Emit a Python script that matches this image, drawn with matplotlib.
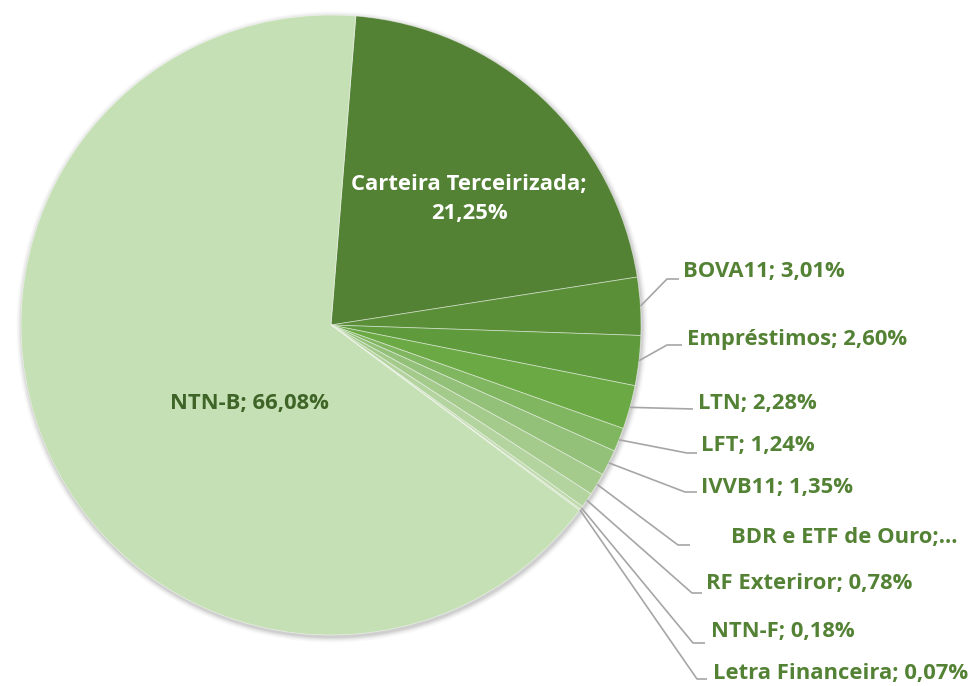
import matplotlib
matplotlib.use("Agg")
import matplotlib.pyplot as plt
import numpy as np

categories = ["Carteira Terceirizada", "BOVA11", "Empréstimos", "LTN", "LFT", "IVVB11",
              "BDR e ETF de Ouro", "RF Exteriror", "NTN-F", "Letra Financeira", "NTN-B"]
values = [21.25, 3.01, 2.60, 2.28, 1.24, 1.35, 1.16, 0.78, 0.18, 0.07, 66.08]
label_texts = ["Carteira Terceirizada;\n21,25%", "BOVA11; 3,01%", "Empréstimos; 2,60%",
               "LTN; 2,28%", "LFT; 1,24%", "IVVB11; 1,35%", "BDR e ETF de Ouro;...",
               "RF Exteriror; 0,78%", "NTN-F; 0,18%", "Letra Financeira; 0,07%",
               "NTN-B; 66,08%"]
colors = ["#548235", "#5a8f38", "#5f9a3d", "#6aa944", "#80b660", "#93c179",
          "#a5cb8c", "#b4d49f", "#bfdaab", "#c9e0b8", "#c5e0b4"]

W, H = 973, 686
fig = plt.figure(figsize=(W / 100, H / 100), dpi=100)
ax = fig.add_axes([0, 0, 1, 1])

cx, cy, R = 331, H - 325, 310
start = 90 - 4.6

# soft shadow
for i, a in enumerate(np.linspace(0.05, 0.01, 6)):
    circ = plt.Circle((cx + 1, cy - 2), R + 1 + i, color="black", alpha=a, lw=0, zorder=0)
    ax.add_patch(circ)

wedges, _ = ax.pie(values, colors=colors, startangle=start, counterclock=False,
                   center=(cx, cy), radius=R,
                   wedgeprops=dict(linewidth=0.6, edgecolor=(1, 1, 1, 0.5)))

fam = ["Open Sans", "DejaVu Sans"]
fs = 15.8
green = "#548235"

# inside labels
ax.text(469, H - 199, label_texts[0], ha="center", va="center", color="white",
        fontsize=fs, fontweight="bold", family=fam, linespacing=1.55)
ax.text(249, H - 404, label_texts[10], ha="center", va="center", color="#3f6427",
        fontsize=fs, fontweight="bold", family=fam)

# outside labels: (elbow x, elbow y, end x, text x, text y) in pixel coords (top origin)
layout = {
    1: (667, 279, 679, 683, 272),
    2: (667, 345, 682, 687, 339),
    3: (693, 409, 693, 698, 403),
    4: (687, 453, 697, 701, 445),
    5: (685, 492, 697, 701, 487),
    6: (678, 545, 690, 731, 537),
    7: (692, 593, 702, 706, 584),
    8: (693, 643, 705, 711, 631),
    9: (697, 679, 707, 713, 673),
}
for i, (ex, ey, endx, tx, ty) in layout.items():
    w = wedges[i]
    th = np.deg2rad((w.theta1 + w.theta2) / 2)
    px, py = cx + R * np.cos(th), cy + R * np.sin(th)
    ax.plot([px, ex, endx], [py, H - ey, H - ey], color="#a6a6a6", lw=1.2,
            solid_capstyle="butt", zorder=1)
    ax.text(tx, H - ty, label_texts[i], ha="left", va="center", color=green,
            fontsize=fs, fontweight="bold", family=fam)

ax.set_xlim(0, W)
ax.set_ylim(0, H)
ax.set_aspect("equal")
ax.axis("off")
fig.savefig("out.png", dpi=100, facecolor="white")
